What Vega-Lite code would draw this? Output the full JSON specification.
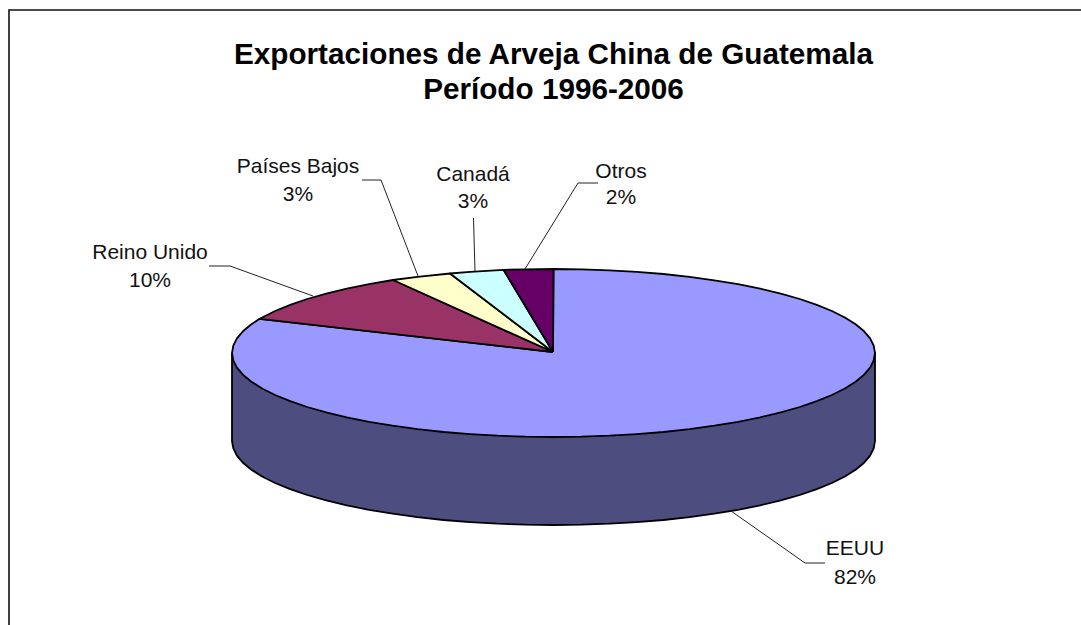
{"$schema":"https://vega.github.io/schema/vega-lite/v6.json","width":1081,"height":625,"padding":0,"autosize":"none","background":"white","view":{"stroke":null},
"title":{"text":["Exportaciones de Arveja China de Guatemala","Período 1996-2006"],"font":"Liberation Sans","fontSize":29.7,"fontWeight":"bold","color":"black","lineHeight":35,"anchor":"middle","frame":"group","orient":"top","offset":-129,"dx":13,"baseline":"alphabetic"},
"datasets":{
"slices":[
{"part":"Lateral","n":0,"x":232,"y":353},{"part":"Lateral","n":1,"x":232,"y":441},{"part":"Lateral","n":2,"x":233.3,"y":448.3},{"part":"Lateral","n":3,"x":236.9,"y":455.6},{"part":"Lateral","n":4,"x":242.9,"y":462.7},{"part":"Lateral","n":5,"x":251.4,"y":469.7},{"part":"Lateral","n":6,"x":262.1,"y":476.5},{"part":"Lateral","n":7,"x":275.1,"y":483},{"part":"Lateral","n":8,"x":290.2,"y":489.2},{"part":"Lateral","n":9,"x":307.2,"y":495},{"part":"Lateral","n":10,"x":326.2,"y":500.4},{"part":"Lateral","n":11,"x":346.8,"y":505.3},{"part":"Lateral","n":12,"x":369,"y":509.8},{"part":"Lateral","n":13,"x":392.7,"y":513.7},{"part":"Lateral","n":14,"x":417.5,"y":517.1},{"part":"Lateral","n":15,"x":443.6,"y":520},{"part":"Lateral","n":16,"x":470.2,"y":522.1},{"part":"Lateral","n":17,"x":497.7,"y":523.7},{"part":"Lateral","n":18,"x":525.5,"y":524.7},{"part":"Lateral","n":19,"x":553.5,"y":525},{"part":"Lateral","n":20,"x":581.5,"y":524.7},{"part":"Lateral","n":21,"x":609.3,"y":523.7},{"part":"Lateral","n":22,"x":636.8,"y":522.1},{"part":"Lateral","n":23,"x":663.4,"y":520},{"part":"Lateral","n":24,"x":689.5,"y":517.1},{"part":"Lateral","n":25,"x":714.3,"y":513.7},{"part":"Lateral","n":26,"x":738,"y":509.8},{"part":"Lateral","n":27,"x":760.2,"y":505.3},{"part":"Lateral","n":28,"x":780.8,"y":500.4},{"part":"Lateral","n":29,"x":799.8,"y":495},{"part":"Lateral","n":30,"x":816.8,"y":489.2},{"part":"Lateral","n":31,"x":831.9,"y":483},{"part":"Lateral","n":32,"x":844.9,"y":476.5},{"part":"Lateral","n":33,"x":855.6,"y":469.7},{"part":"Lateral","n":34,"x":864.1,"y":462.7},{"part":"Lateral","n":35,"x":870.1,"y":455.6},{"part":"Lateral","n":36,"x":873.7,"y":448.3},{"part":"Lateral","n":37,"x":875,"y":441},{"part":"Lateral","n":38,"x":875,"y":353},{"part":"Lateral","n":39,"x":232,"y":353},
{"part":"EEUU","n":0,"x":553,"y":352},{"part":"EEUU","n":1,"x":553.5,"y":269},{"part":"EEUU","n":2,"x":581.5,"y":269.3},{"part":"EEUU","n":3,"x":609.3,"y":270.3},{"part":"EEUU","n":4,"x":636.8,"y":271.9},{"part":"EEUU","n":5,"x":663.4,"y":274},{"part":"EEUU","n":6,"x":689.5,"y":276.9},{"part":"EEUU","n":7,"x":714.3,"y":280.3},{"part":"EEUU","n":8,"x":738,"y":284.2},{"part":"EEUU","n":9,"x":760.2,"y":288.7},{"part":"EEUU","n":10,"x":780.8,"y":293.6},{"part":"EEUU","n":11,"x":799.8,"y":299},{"part":"EEUU","n":12,"x":816.8,"y":304.8},{"part":"EEUU","n":13,"x":831.9,"y":311},{"part":"EEUU","n":14,"x":844.9,"y":317.5},{"part":"EEUU","n":15,"x":855.6,"y":324.3},{"part":"EEUU","n":16,"x":864.1,"y":331.3},{"part":"EEUU","n":17,"x":870.1,"y":338.4},{"part":"EEUU","n":18,"x":873.7,"y":345.7},{"part":"EEUU","n":19,"x":875,"y":353},{"part":"EEUU","n":20,"x":873.7,"y":360.3},{"part":"EEUU","n":21,"x":870.1,"y":367.6},{"part":"EEUU","n":22,"x":864.1,"y":374.7},{"part":"EEUU","n":23,"x":855.6,"y":381.7},{"part":"EEUU","n":24,"x":844.9,"y":388.5},{"part":"EEUU","n":25,"x":831.9,"y":395},{"part":"EEUU","n":26,"x":816.8,"y":401.2},{"part":"EEUU","n":27,"x":799.8,"y":407},{"part":"EEUU","n":28,"x":780.8,"y":412.4},{"part":"EEUU","n":29,"x":760.2,"y":417.3},{"part":"EEUU","n":30,"x":738,"y":421.8},{"part":"EEUU","n":31,"x":714.3,"y":425.7},{"part":"EEUU","n":32,"x":689.5,"y":429.1},{"part":"EEUU","n":33,"x":663.4,"y":432},{"part":"EEUU","n":34,"x":636.8,"y":434.1},{"part":"EEUU","n":35,"x":609.3,"y":435.7},{"part":"EEUU","n":36,"x":581.5,"y":436.7},{"part":"EEUU","n":37,"x":553.5,"y":437},{"part":"EEUU","n":38,"x":525.5,"y":436.7},{"part":"EEUU","n":39,"x":497.7,"y":435.7},{"part":"EEUU","n":40,"x":470.2,"y":434.1},{"part":"EEUU","n":41,"x":443.6,"y":432},{"part":"EEUU","n":42,"x":417.5,"y":429.1},{"part":"EEUU","n":43,"x":392.7,"y":425.7},{"part":"EEUU","n":44,"x":369,"y":421.8},{"part":"EEUU","n":45,"x":346.8,"y":417.3},{"part":"EEUU","n":46,"x":326.2,"y":412.4},{"part":"EEUU","n":47,"x":307.2,"y":407},{"part":"EEUU","n":48,"x":290.2,"y":401.2},{"part":"EEUU","n":49,"x":275.1,"y":395},{"part":"EEUU","n":50,"x":262.1,"y":388.5},{"part":"EEUU","n":51,"x":251.4,"y":381.7},{"part":"EEUU","n":52,"x":242.9,"y":374.7},{"part":"EEUU","n":53,"x":236.9,"y":367.6},{"part":"EEUU","n":54,"x":233.3,"y":360.3},{"part":"EEUU","n":55,"x":232,"y":353},{"part":"EEUU","n":56,"x":233.3,"y":345.7},{"part":"EEUU","n":57,"x":236.9,"y":338.4},{"part":"EEUU","n":58,"x":242.9,"y":331.3},{"part":"EEUU","n":59,"x":251.4,"y":324.3},{"part":"EEUU","n":60,"x":259.6,"y":318.8},{"part":"EEUU","n":61,"x":553,"y":352},
{"part":"Reino Unido","n":0,"x":553,"y":352},{"part":"Reino Unido","n":1,"x":259.6,"y":318.8},{"part":"Reino Unido","n":2,"x":275.1,"y":311},{"part":"Reino Unido","n":3,"x":290.2,"y":304.8},{"part":"Reino Unido","n":4,"x":307.2,"y":299},{"part":"Reino Unido","n":5,"x":326.2,"y":293.6},{"part":"Reino Unido","n":6,"x":346.8,"y":288.7},{"part":"Reino Unido","n":7,"x":369,"y":284.2},{"part":"Reino Unido","n":8,"x":393,"y":280},{"part":"Reino Unido","n":9,"x":553,"y":352},
{"part":"Países Bajos","n":0,"x":553,"y":352},{"part":"Países Bajos","n":1,"x":393,"y":280},{"part":"Países Bajos","n":2,"x":417.5,"y":276.9},{"part":"Países Bajos","n":3,"x":450,"y":273.5},{"part":"Países Bajos","n":4,"x":553,"y":352},
{"part":"Canadá","n":0,"x":553,"y":352},{"part":"Canadá","n":1,"x":450,"y":273.5},{"part":"Canadá","n":2,"x":470.2,"y":271.9},{"part":"Canadá","n":3,"x":503.5,"y":269.8},{"part":"Canadá","n":4,"x":553,"y":352},
{"part":"Otros","n":0,"x":553,"y":352},{"part":"Otros","n":1,"x":503.5,"y":269.8},{"part":"Otros","n":2,"x":525.5,"y":269.3},{"part":"Otros","n":3,"x":553.5,"y":269},{"part":"Otros","n":4,"x":553,"y":352}
],
"leaders":[
{"part":"Reino Unido","n":0,"x":209,"y":266},{"part":"Reino Unido","n":1,"x":230,"y":266},{"part":"Reino Unido","n":2,"x":313,"y":296},
{"part":"Países Bajos","n":0,"x":362,"y":180},{"part":"Países Bajos","n":1,"x":381,"y":180},{"part":"Países Bajos","n":2,"x":418,"y":276},
{"part":"Canadá","n":0,"x":473.5,"y":218},{"part":"Canadá","n":1,"x":475,"y":271},
{"part":"Otros","n":0,"x":598,"y":183},{"part":"Otros","n":1,"x":578,"y":183},{"part":"Otros","n":2,"x":525,"y":269},
{"part":"EEUU","n":0,"x":731,"y":511},{"part":"EEUU","n":1,"x":805,"y":563},{"part":"EEUU","n":2,"x":825,"y":563}
],
"frame":[{"n":0,"x":9,"y":625},{"n":1,"x":9,"y":10},{"n":2,"x":1081,"y":10}],
"labels":[
{"t":"Reino Unido","x":150,"y":253},{"t":"10%","x":150,"y":281},
{"t":"Países Bajos","x":298,"y":167},{"t":"3%","x":298,"y":195},
{"t":"Canadá","x":473,"y":175},{"t":"3%","x":473,"y":202},
{"t":"Otros","x":621,"y":172},{"t":"2%","x":621,"y":198},
{"t":"EEUU","x":855,"y":549},{"t":"82%","x":855,"y":578}
]},
"layer":[
{"data":{"name":"frame"},"mark":{"type":"line","stroke":"#111111","strokeWidth":1.6},"encoding":{"x":{"field":"x","type":"quantitative","scale":{"domain":[0,1081]},"axis":null},"y":{"field":"y","type":"quantitative","scale":{"domain":[625,0]},"axis":null},"order":{"field":"n"}}},
{"data":{"name":"slices"},"mark":{"type":"line","filled":true,"stroke":"black","strokeWidth":1.8,"strokeJoin":"round"},"encoding":{"x":{"field":"x","type":"quantitative","scale":{"domain":[0,1081]},"axis":null},"y":{"field":"y","type":"quantitative","scale":{"domain":[625,0]},"axis":null},"order":{"field":"n"},"color":{"field":"part","type":"nominal","legend":null,"sort":null,"scale":{"domain":["Lateral","EEUU","Reino Unido","Países Bajos","Canadá","Otros"],"range":["#4D4D80","#9999FF","#993366","#FFFFCC","#CCFFFF","#660066"]}}}},
{"data":{"name":"leaders"},"mark":{"type":"line","stroke":"#222222","strokeWidth":1},"encoding":{"x":{"field":"x","type":"quantitative","scale":{"domain":[0,1081]},"axis":null},"y":{"field":"y","type":"quantitative","scale":{"domain":[625,0]},"axis":null},"order":{"field":"n"},"detail":{"field":"part"}}},
{"data":{"name":"labels"},"mark":{"type":"text","font":"Liberation Sans","fontSize":21,"color":"#111111","align":"center","baseline":"middle"},"encoding":{"x":{"field":"x","type":"quantitative","scale":{"domain":[0,1081]},"axis":null},"y":{"field":"y","type":"quantitative","scale":{"domain":[625,0]},"axis":null},"text":{"field":"t"}}}
]}
